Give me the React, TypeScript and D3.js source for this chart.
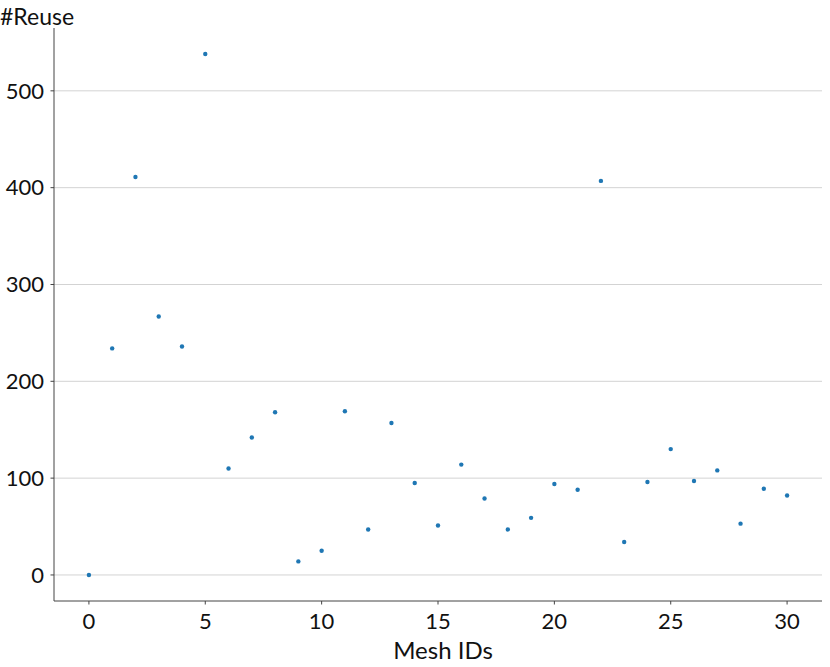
import React from 'react';
import * as d3 from 'd3';

const meshIds = d3.range(0, 31);
const reuse = [0, 234, 411, 267, 236, 538, 110, 142, 168, 14, 25, 169, 47, 157, 95, 51, 114, 79, 47, 59, 94, 88, 407, 34, 96, 130, 97, 108, 53, 89, 82];
const xTicks = [0, 5, 10, 15, 20, 25, 30];
const yTicks = [0, 100, 200, 300, 400, 500];

const W = 830;
const H = 667;
const m = { left: 54, right: 8, top: 28, bottom: 66 };
const font = "Lato, 'Open Sans', sans-serif";

export default function App() {
  const x = d3.scaleLinear().domain([-1.5, 31.5]).range([m.left, W - m.right]);
  const y = d3.scaleLinear().domain([-26.9, 564.9]).range([H - m.bottom, m.top]);
  const bottom = H - m.bottom;

  return (
    <svg width={W} height={H} style={{ position: 'absolute', left: 0, top: 0 }}>
      <rect width={W} height={H} fill="#fff" />
      {/* grid */}
      {yTicks.map(t => (
        <line key={'g' + t} x1={m.left} x2={W - m.right} y1={y(t)} y2={y(t)} stroke="#d3d3d3" strokeWidth={1} />
      ))}
      {/* points */}
      {meshIds.map((id, i) => (
        <circle key={id} cx={x(id)} cy={y(reuse[i])} r={2.2} fill="#1f77b4" />
      ))}
      {/* spines */}
      <line x1={m.left} x2={m.left} y1={m.top} y2={bottom} stroke="#444" strokeWidth={1} />
      <line x1={m.left} x2={W - m.right} y1={bottom} y2={bottom} stroke="#444" strokeWidth={1} />
      {/* y ticks */}
      {yTicks.map(t => (
        <g key={'y' + t}>
          <line x1={m.left - 3.5} x2={m.left} y1={y(t)} y2={y(t)} stroke="#444" />
          <text x={m.left - 10} y={y(t)} dy="0.35em" textAnchor="end" fontFamily={font} fontSize={22} fill="#111">{t}</text>
        </g>
      ))}
      {/* x ticks */}
      {xTicks.map(t => (
        <g key={'x' + t}>
          <line x1={x(t)} x2={x(t)} y1={bottom} y2={bottom + 3.5} stroke="#444" />
          <text x={x(t)} y={bottom + 28} textAnchor="middle" fontFamily={font} fontSize={22} fill="#111">{t}</text>
        </g>
      ))}
      <text x={0} y={25} fontFamily={font} fontSize={23} fill="#111">#Reuse</text>
      <text x={(m.left + W - m.right) / 2 + 5} y={659} textAnchor="middle" fontFamily={font} fontSize={24} fill="#111">Mesh IDs</text>
    </svg>
  );
}
